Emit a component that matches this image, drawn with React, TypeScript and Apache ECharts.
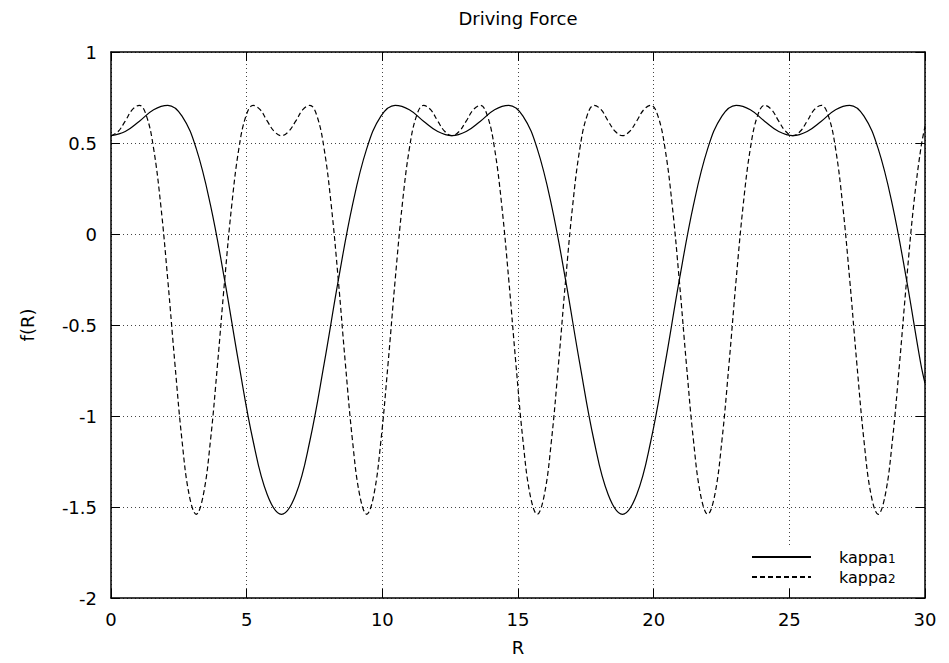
import React, { useEffect, useRef } from "react";
import * as echarts from "echarts";

const chartTitle = "Driving Force";
const xAxisName = "R";
const yAxisName = "f(R)";
const seriesNames = ["kappa1", "kappa2"];

// kappa1 samples (R, f(R))
const kappa1R = [
  0, 0.524, 1.047, 1.571, 2.094, 2.618, 3.142, 3.665, 4.189, 4.712, 5.236, 5.76,
  6.283, 6.807, 7.33, 7.854, 8.378, 8.901, 9.425, 9.948, 10.472, 10.996, 11.519, 12.043,
  12.566, 13.09, 13.614, 14.137, 14.661, 15.184, 15.708, 16.232, 16.755, 17.279, 17.802, 18.326,
  18.85, 19.373, 19.897, 20.42, 20.944, 21.468, 21.991, 22.515, 23.038, 23.562, 24.086, 24.609,
  25.133, 25.656, 26.18, 26.704, 27.227, 27.751, 28.274, 28.798, 29.322, 29.845, 30,
];
const kappa1Values = [
  0.54, 0.563, 0.62, 0.683, 0.707, 0.648, 0.469, 0.16, -0.254, -0.714, -1.136, -1.433,
  -1.54, -1.433, -1.136, -0.714, -0.254, 0.16, 0.469, 0.648, 0.707, 0.683, 0.62, 0.563,
  0.54, 0.563, 0.62, 0.683, 0.707, 0.648, 0.469, 0.16, -0.254, -0.714, -1.136, -1.433,
  -1.54, -1.433, -1.136, -0.714, -0.254, 0.16, 0.469, 0.648, 0.707, 0.683, 0.62, 0.563,
  0.54, 0.563, 0.62, 0.683, 0.707, 0.648, 0.469, 0.16, -0.254, -0.714, -0.82,
];

// kappa2 samples (R, f(R))
const kappa2R = [
  0, 0.262, 0.524, 0.785, 1.047, 1.309, 1.571, 1.833, 2.094, 2.356, 2.618, 2.88,
  3.142, 3.403, 3.665, 3.927, 4.189, 4.451, 4.712, 4.974, 5.236, 5.498, 5.76, 6.021,
  6.283, 6.545, 6.807, 7.069, 7.33, 7.592, 7.854, 8.116, 8.378, 8.639, 8.901, 9.163,
  9.425, 9.687, 9.948, 10.21, 10.472, 10.734, 10.996, 11.257, 11.519, 11.781, 12.043, 12.305,
  12.566, 12.828, 13.09, 13.352, 13.614, 13.875, 14.137, 14.399, 14.661, 14.923, 15.184, 15.446,
  15.708, 15.97, 16.232, 16.493, 16.755, 17.017, 17.279, 17.541, 17.802, 18.064, 18.326, 18.588,
  18.85, 19.111, 19.373, 19.635, 19.897, 20.159, 20.42, 20.682, 20.944, 21.206, 21.468, 21.729,
  21.991, 22.253, 22.515, 22.777, 23.038, 23.3, 23.562, 23.824, 24.086, 24.347, 24.609, 24.871,
  25.133, 25.394, 25.656, 25.918, 26.18, 26.442, 26.704, 26.965, 27.227, 27.489, 27.751, 28.012,
  28.274, 28.536, 28.798, 29.06, 29.322, 29.583, 29.845, 30,
];
const kappa2Values = [
  0.54, 0.563, 0.62, 0.683, 0.707, 0.648, 0.469, 0.16, -0.254, -0.714, -1.136, -1.433,
  -1.54, -1.433, -1.136, -0.714, -0.254, 0.16, 0.469, 0.648, 0.707, 0.683, 0.62, 0.563,
  0.54, 0.563, 0.62, 0.683, 0.707, 0.648, 0.469, 0.16, -0.254, -0.714, -1.136, -1.433,
  -1.54, -1.433, -1.136, -0.714, -0.254, 0.16, 0.469, 0.648, 0.707, 0.683, 0.62, 0.563,
  0.54, 0.563, 0.62, 0.683, 0.707, 0.648, 0.469, 0.16, -0.254, -0.714, -1.136, -1.433,
  -1.54, -1.433, -1.136, -0.714, -0.254, 0.16, 0.469, 0.648, 0.707, 0.683, 0.62, 0.563,
  0.54, 0.563, 0.62, 0.683, 0.707, 0.648, 0.469, 0.16, -0.254, -0.714, -1.136, -1.433,
  -1.54, -1.433, -1.136, -0.714, -0.254, 0.16, 0.469, 0.648, 0.707, 0.683, 0.62, 0.563,
  0.54, 0.563, 0.62, 0.683, 0.707, 0.648, 0.469, 0.16, -0.254, -0.714, -1.136, -1.433,
  -1.54, -1.433, -1.136, -0.714, -0.254, 0.16, 0.469, 0.591,
];

const xMin = 0;
const xMax = 30;
const xStep = 5;
const yMin = -2;
const yMax = 1;
const yStep = 0.5;

function pairs(xs: number[], ys: number[]) {
  const n = Math.min(xs.length, ys.length);
  const out: number[][] = [];
  for (let i = 0; i < n; i++) out.push([xs[i], ys[i]]);
  return out;
}

export default function App() {
  const ref = useRef<HTMLDivElement>(null);

  useEffect(() => {
    if (!ref.current) return;
    const chart = echarts.init(ref.current, null, { renderer: "svg" });
    const font = "'DejaVu Sans', Verdana, sans-serif";
    const fs = 18;
    const lfs = 16;
    const gridLeft = 111;
    const gridTop = 52;
    const gridW = 814;
    const gridH = 546;

    const border = { show: true, onZero: false, lineStyle: { color: "#000", width: 1.5 } };
    const tick = { show: true, inside: true, length: 9, lineStyle: { color: "#000", width: 1 } };
    const dotted = { show: true, lineStyle: { color: "#444", width: 1, type: [1, 3] } };

    chart.setOption({
      animation: false,
      backgroundColor: "#fff",
      textStyle: { fontFamily: font },
      grid: { left: gridLeft, top: gridTop, width: gridW, height: gridH, containLabel: false },
      graphic: [
        {
          type: "text",
          x: gridLeft + gridW / 2,
          y: 18,
          style: {
            text: chartTitle,
            fill: "#000",
            fontSize: fs,
            fontFamily: font,
            align: "center",
            verticalAlign: "middle",
            textAlign: "center",
            textVerticalAlign: "middle",
          },
        },
      ],
      legend: {
        orient: "vertical",
        left: 741,
        top: 546,
        padding: [3, 12, 3, 10],
        itemGap: 4,
        itemWidth: 59,
        itemHeight: 14,
        backgroundColor: "#fff",
        data: seriesNames,
        itemStyle: { opacity: 0, borderWidth: 0 },
        formatter: (name: string) => `{n|kappa}{s|${name.replace("kappa", "")}}`,
        textStyle: {
          color: "#000",
          fontSize: lfs,
          fontFamily: font,
          padding: [0, 0, 0, 23],
          rich: {
            n: { fontSize: lfs, lineHeight: 16, fontFamily: font, color: "#000" },
            s: { fontSize: 12, lineHeight: 12, fontFamily: font, color: "#000", padding: [4, 0, 0, 0] },
          },
        },
      },
      xAxis: [
        {
          type: "value",
          min: xMin,
          max: xMax,
          interval: xStep,
          position: "bottom",
          name: xAxisName,
          nameLocation: "middle",
          nameGap: 40,
          nameTextStyle: { color: "#000", fontSize: fs, fontFamily: font },
          axisLine: border,
          axisTick: tick,
          axisLabel: { color: "#000", fontSize: fs, fontFamily: font, margin: 12 },
          splitLine: dotted,
        },
        {
          type: "value",
          min: xMin,
          max: xMax,
          interval: xStep,
          position: "top",
          axisLine: border,
          axisTick: tick,
          axisLabel: { show: false },
          splitLine: { show: false },
        },
      ],
      yAxis: [
        {
          type: "value",
          min: yMin,
          max: yMax,
          interval: yStep,
          position: "left",
          name: yAxisName,
          nameLocation: "middle",
          nameRotate: 90,
          nameGap: 75,
          nameTextStyle: { color: "#000", fontSize: fs, fontFamily: font },
          axisLine: border,
          axisTick: tick,
          axisLabel: { color: "#000", fontSize: fs, fontFamily: font, margin: 14 },
          splitLine: dotted,
        },
        {
          type: "value",
          min: yMin,
          max: yMax,
          interval: yStep,
          position: "right",
          axisLine: border,
          axisTick: tick,
          axisLabel: { show: false },
          splitLine: { show: false },
        },
      ],
      series: [
        {
          name: seriesNames[0],
          type: "line",
          xAxisIndex: 0,
          yAxisIndex: 0,
          data: pairs(kappa1R, kappa1Values),
          symbol: "none",
          showSymbol: false,
          smooth: 0.4,
          clip: true,
          lineStyle: { color: "#000", width: 1.2, type: "solid" },
          itemStyle: { color: "#000" },
        },
        {
          name: seriesNames[1],
          type: "line",
          xAxisIndex: 0,
          yAxisIndex: 0,
          data: pairs(kappa2R, kappa2Values),
          symbol: "none",
          showSymbol: false,
          smooth: 0.4,
          clip: true,
          lineStyle: { color: "#000", width: 1.2, type: [5, 3] },
          itemStyle: { color: "#000" },
        },
      ],
    });

    return () => chart.dispose();
  }, []);

  return (
    <div
      ref={ref}
      style={{ position: "fixed", left: 0, top: 0, width: 949, height: 663, background: "#fff" }}
    />
  );
}
